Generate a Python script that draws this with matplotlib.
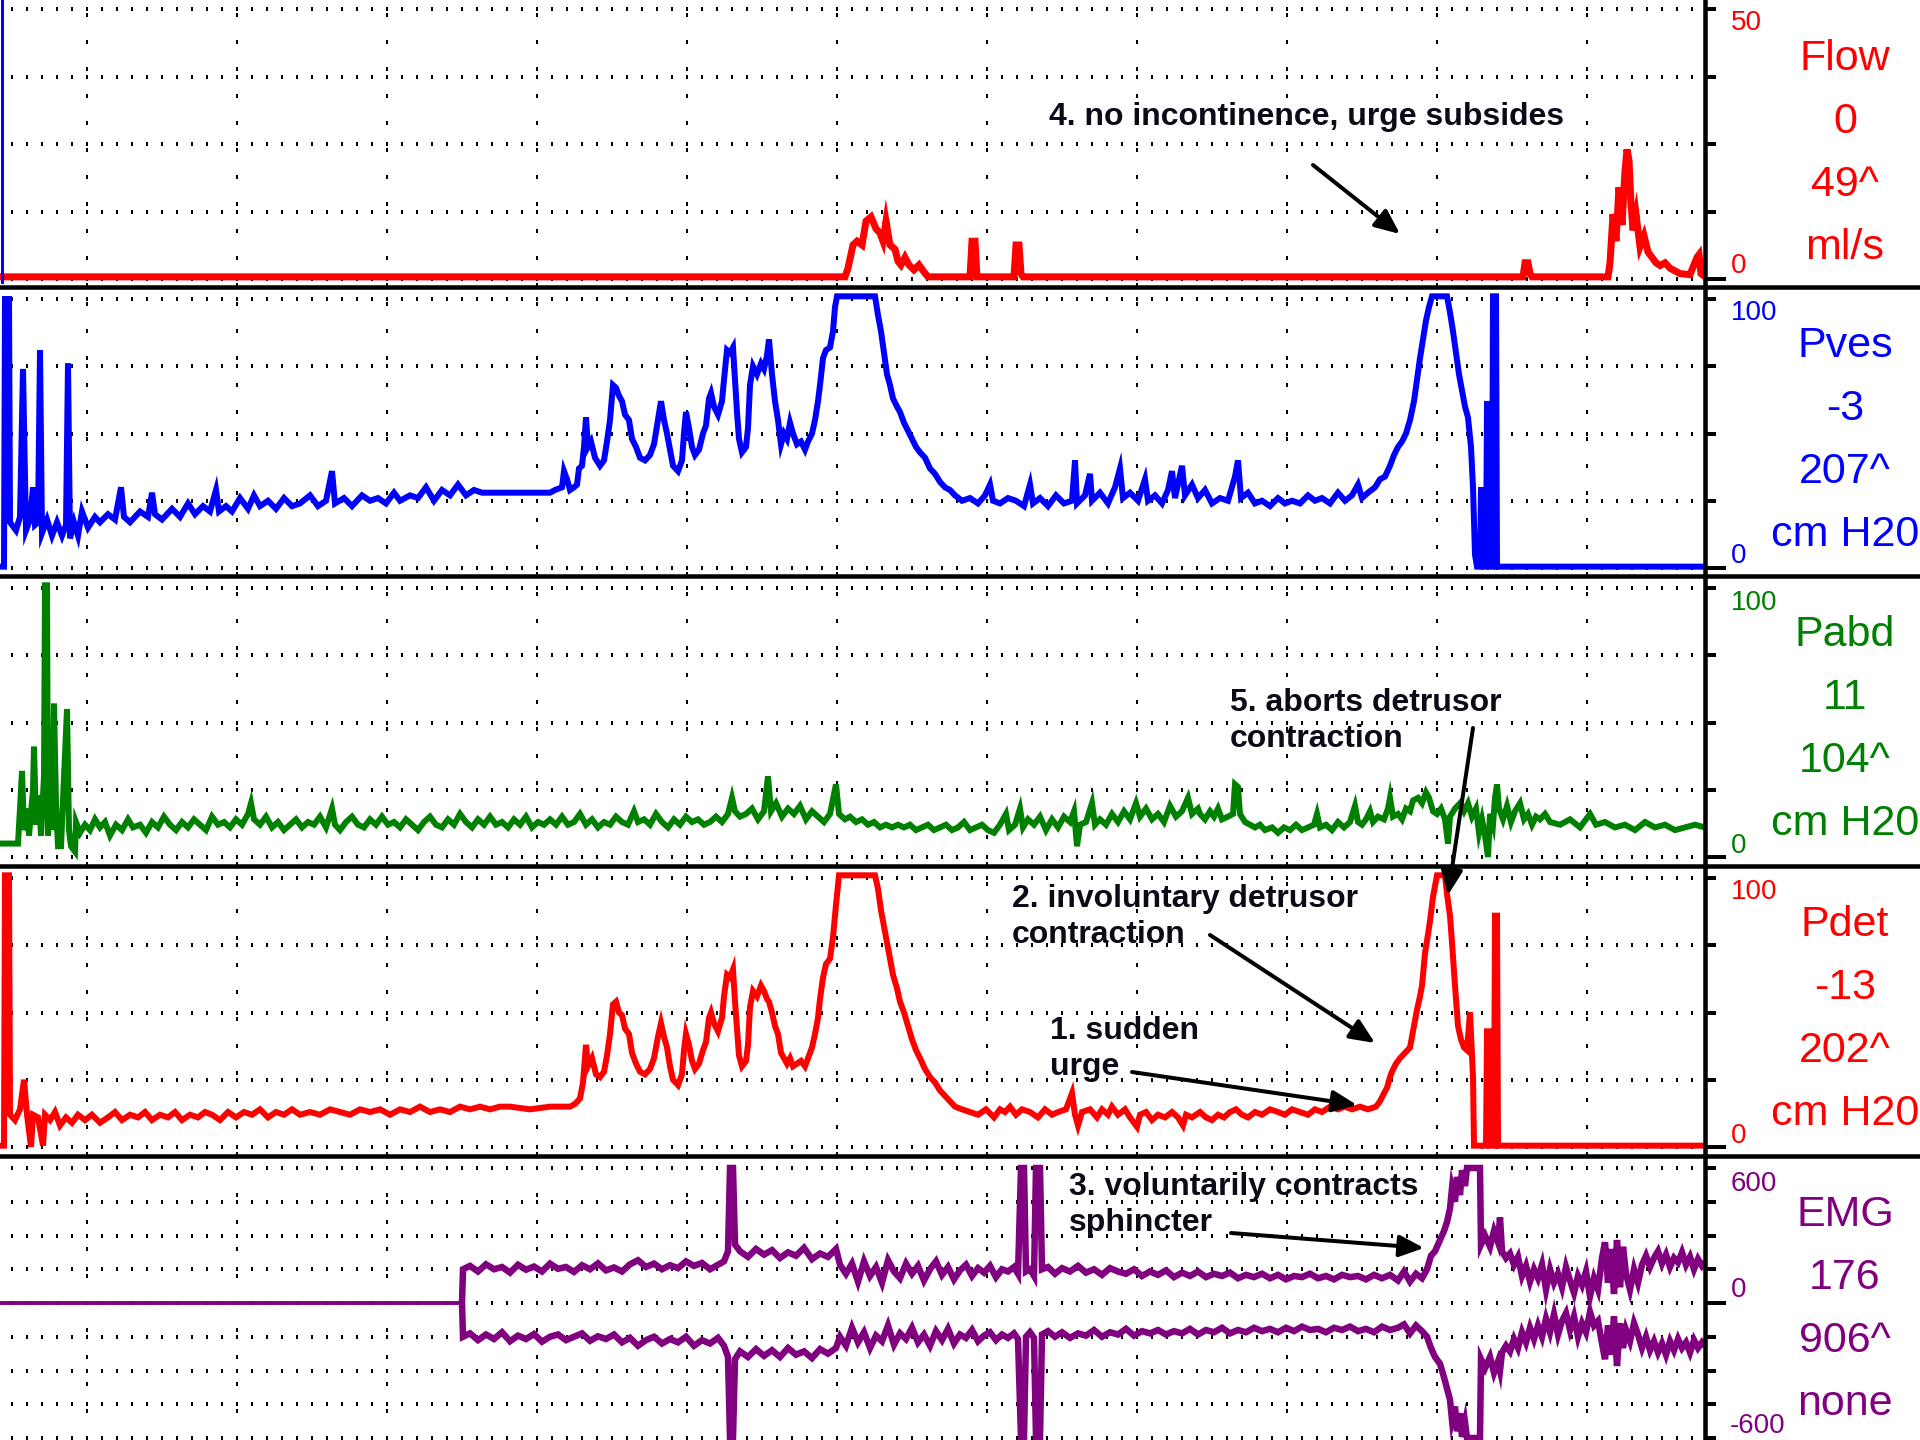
import matplotlib
matplotlib.use("Agg")
import matplotlib.pyplot as plt
import matplotlib.patches as mpatches
from matplotlib.lines import Line2D
from matplotlib.ticker import FixedLocator, NullFormatter

# ---------------- data (time in trace units 0..1705, values in channel units) -------------
flow_pts = [(0,0.4),(845,0.4),(848,2),(853,6.3),(857,7),(862,6.3),(866,10.7),(871,11.5),(876,9.3),
            (880,8.5),(883,7),(886,10.7),(890,6.3),(895,5.5),(898,3.3),(901,2.6),(905,4),(909,2.6),
            (914,1.7),(919,2.6),(924,1.3),(928,0.4),(970,0.4),(972,7),(975,7),(977,0.4),(1014,0.4),
            (1016,6.3),(1019,6.3),(1021,1),(1023,0.4),(1523,0.4),(1525,3),(1528,3),(1530,1),(1532,0.4),
            (1608,0.4),(1610,3),(1613,12),(1616,7),(1619,17),(1622,10),(1625,20),(1627,24),(1629,22),
            (1631,14),(1633,9),(1636,12),(1640,6),(1644,8),(1648,5),(1652,4),(1656,3),(1660,2.5),
            (1665,3),(1670,2),(1675,1.5),(1680,1),(1690,0.8),(1697,4),(1699,4.5),(1701,1),(1705,0.4)]

pves_pts = [(0,0.5),(4,0.5),(5,100),(9,100),(10,17),(16,14),(20,19),(23,74),(26,14),(30,18),(33,30),
            (35,16),(38,17),(40,81),(42,13),(47,18),(52,12),(57,17),(62,12),(66,16),(68,76),(70,11),
            (74,17),(78,12),(82,21),(88,15),(95,19),(100,17),(108,20),(115,18),(121,30),(124,19),(130,17),
            (140,21),(148,19),(152,28),(155,20),(162,18),(172,22),(180,19),(188,24),(195,20),(203,23),
            (210,21),(216,29),(219,21),(226,23),(232,21),(240,26),(248,22),(254,27),(260,23),(268,25),
            (276,22),(284,26),(292,23),(300,24),(310,27),(318,23),(326,25),(332,36),(335,24),(344,26),
            (352,23),(362,27),(370,25),(378,26),(386,24),(394,28),(400,25),(410,27),(418,26),(426,30),
            (434,25),(442,29),(450,27),(458,31),(466,27),(474,29),(482,28),(490,28),(520,28),(550,28),
            (555,29),(562,30),(564,36),(567,33),(570,29),(574,30),(577,31),(579,37),(582,38),(584,45),
            (586,56),(588,45),(591,47),(595,41),(600,38),(604,40),(607,47),(610,55),(613,68),(616,67),
            (619,64),(622,62),(625,57),(629,55),(632,48),(636,45),(640,41),(645,40),(650,42),(654,46),
            (658,55),(661,62),(664,55),(667,50),(670,44),(673,38),(678,36),(682,40),(684,50),(686,58),
            (689,52),(692,45),(695,42),(699,44),(703,50),(706,53),(709,63),(711,65),(714,60),(718,57),
            (722,62),(724,70),(727,81),(730,80),(733,82),(735,70),(737,58),(739,48),(742,43),(746,45),
            (748,52),(750,68),(753,75),(757,72),(761,76),(764,74),(767,79),(769,85),(772,72),(775,62),
            (778,55),(781,46),(784,50),(787,48),(790,54),(793,50),(797,46),(801,47),(805,44),(808,47),
            (812,50),(815,55),(818,62),(820,68),(823,78),(826,81),(830,82),(833,88),(835,97),(837,101),
            (875,101),(878,94),(881,88),(884,80),(887,72),(890,68),(893,63),(897,60),(900,58),(904,54),
            (908,51),(912,48),(916,45),(920,43),(925,41),(930,37),(935,35),(940,32),(945,30),(950,29),
            (955,27),(962,25),(970,26),(978,24),(985,27),(990,31),(993,25),(1000,24),(1008,26),(1016,25),
            (1024,23),(1030,31),(1033,24),(1040,26),(1048,23),(1056,27),(1064,24),(1072,25),(1075,40),
            (1077,24),(1085,27),(1090,35),(1092,25),(1100,28),(1108,24),(1115,30),(1120,37),(1123,26),
            (1130,28),(1138,25),(1145,33),(1148,25),(1155,27),(1162,24),(1168,29),(1172,36),(1175,26),
            (1182,38),(1185,27),(1192,31),(1198,26),(1205,29),(1212,24),(1220,26),(1228,25),(1235,34),
            (1238,40),(1241,26),(1248,28),(1255,24),(1262,25),(1270,23),(1278,26),(1285,24),(1292,25),
            (1300,24),(1308,27),(1315,25),(1322,26),(1330,24),(1338,28),(1345,25),(1352,27),(1358,31),
            (1362,26),(1368,28),(1375,30),(1380,33),(1385,34),(1390,38),(1394,42),(1398,45),(1402,47),
            (1406,50),(1410,55),(1414,62),(1417,70),(1420,78),(1423,85),(1426,92),(1429,97),(1432,101),
            (1447,101),(1450,95),(1453,88),(1456,80),(1459,72),(1462,66),(1465,60),(1468,56),(1471,45),
            (1473,30),(1475,5),(1477,0.5),(1480,0.5),(1481,29),(1483,29),(1484,0.5),(1486,0.5),(1487,61),
            (1489,61),(1490,0.5),(1492,0.5),(1493,101),(1496,101),(1497,0.5),(1705,0.5)]

pabd_pts = [(0,5),(16,5),(18,5),(20,18),(22,32),(24,10),(27,18),(29,8),(33,25),(34,41),(36,12),(39,23),
            (41,8),(44,30),(45,101),(47,101),(48,8),(50,27),(52,10),(54,57),(56,20),(58,4),(61,4),(67,55),
            (69,10),(71,4),(75,2),(76,13),(80,9),(85,12),(90,10),(95,14),(100,11),(105,13),(110,8),
            (116,12),(122,10),(128,14),(133,11),(140,12),(146,9),(152,13),(158,11),(164,15),(170,12),
            (176,10),(182,13),(188,11),(194,14),(200,12),(206,10),(212,15),(218,12),(224,13),(230,11),
            (236,14),(242,12),(248,16),(251,20),(254,14),(260,12),(266,15),(272,11),(278,13),(284,10),
            (290,12),(296,14),(302,11),(308,13),(314,12),(320,15),(326,11),(332,18),(335,12),(340,10),
            (346,13),(352,15),(358,12),(364,11),(370,14),(376,12),(382,15),(388,12),(394,13),(400,11),
            (406,14),(412,12),(418,10),(424,13),(430,15),(436,12),(442,11),(448,14),(454,12),(460,16),
            (466,13),(472,11),(478,14),(484,12),(490,15),(496,12),(502,13),(508,11),(514,14),(520,12),
            (526,15),(532,11),(538,13),(544,12),(550,14),(556,12),(562,15),(568,12),(574,13),(580,16),
            (586,12),(592,14),(598,11),(604,13),(610,12),(616,15),(622,13),(628,12),(634,17),(638,13),
            (644,14),(650,12),(656,16),(662,13),(668,11),(674,14),(680,12),(686,15),(692,13),(698,14),
            (704,12),(710,13),(716,15),(722,13),(728,16),(732,22),(735,17),(740,15),(746,16),(752,18),
            (758,14),(764,17),(768,30),(771,17),(776,20),(782,15),(788,18),(794,16),(800,19),(806,14),
            (812,17),(818,15),(824,13),(830,16),(836,27),(839,16),(845,14),(850,15),(856,13),(862,14),
            (868,12),(874,13),(880,11),(886,12),(892,11),(898,12),(904,11),(910,12),(916,10),(922,11),
            (928,12),(934,10),(940,11),(946,12),(952,10),(958,11),(964,13),(970,10),(976,11),(982,12),
            (988,10),(994,9),(1000,12),(1006,16),(1009,10),(1015,12),(1020,18),(1023,11),(1028,14),
            (1034,12),(1040,15),(1046,10),(1052,14),(1058,11),(1064,15),(1070,13),(1074,17),(1077,4),
            (1080,12),(1086,13),(1092,20),(1095,12),(1100,14),(1106,12),(1112,16),(1118,13),(1124,17),
            (1130,14),(1136,20),(1140,15),(1146,18),(1152,14),(1158,16),(1164,13),(1170,19),(1176,15),
            (1182,17),(1188,22),(1192,16),(1198,18),(1200,16),(1205,14),(1210,17),(1214,15),(1218,18),
            (1222,14),(1228,15),(1233,16),(1235,27),(1238,26),(1240,16),(1245,13),(1250,12),(1255,11),
            (1260,12),(1265,10),(1272,11),(1278,9),(1284,11),(1290,10),(1296,12),(1302,10),(1308,11),
            (1314,12),(1317,16),(1320,11),(1326,12),(1332,10),(1338,13),(1344,11),(1350,13),(1355,19),
            (1358,13),(1362,12),(1366,14),(1370,17),(1373,13),(1378,15),(1384,14),(1388,18),(1390,22),
            (1393,15),(1398,16),(1402,14),(1406,18),(1410,17),(1413,21),(1418,22),(1422,20),(1426,24),
            (1429,22),(1433,17),(1437,16),(1441,18),(1445,14),(1448,5),(1450,15),(1455,18),(1460,20),
            (1464,17),(1468,20),(1472,15),(1476,18),(1479,9),(1482,14),(1485,8),(1488,0),(1490,16),
            (1493,12),(1495,22),(1497,27),(1499,18),(1503,14),(1507,19),(1511,13),(1515,17),(1520,20),
            (1524,14),(1528,16),(1532,12),(1536,15),(1540,14),(1545,16),(1550,13),(1560,12),(1570,14),
            (1580,11),(1590,16),(1596,12),(1605,13),(1615,11),(1625,12),(1635,10),(1645,13),(1655,11),
            (1665,12),(1675,10),(1685,11),(1695,12),(1705,11)]

pdet_pts = [(0,0.5),(4,0.5),(5,101),(9,101),(10,12),(15,10),(20,14),(24,25),(27,12),(31,0),(33,12),
            (38,11),(43,0.5),(45,12),(50,10),(55,13),(60,8),(66,11),(72,9),(78,12),(85,10),(92,12),
            (100,9),(108,11),(115,13),(122,10),(130,12),(138,11),(145,13),(152,10),(160,12),(168,11),
            (175,13),(182,10),(190,12),(198,11),(205,13),(212,12),(220,10),(228,13),(236,11),(244,13),
            (252,12),(260,14),(268,11),(276,13),(284,12),(292,14),(300,12),(310,13),(320,12),(330,14),
            (340,13),(350,12),(360,14),(370,13),(380,14),(390,12),(400,14),(410,13),(420,15),(430,13),
            (440,14),(450,13),(460,15),(470,14),(480,15),(490,14),(500,15),(510,15),(530,14),(550,15),
            (570,15),(575,16),(580,18),(583,24),(586,38),(588,30),(592,33),(596,27),(600,26),(604,28),
            (607,34),(610,42),(613,53),(616,54),(619,50),(622,49),(625,44),(629,42),(632,35),(636,31),
            (640,28),(645,27),(650,29),(654,33),(658,41),(661,46),(664,41),(667,37),(670,30),(673,25),
            (678,23),(682,27),(684,36),(686,42),(689,38),(692,32),(695,29),(699,31),(703,36),(706,39),
            (709,48),(711,50),(714,46),(718,43),(722,48),(724,56),(727,64),(730,63),(733,66),(735,54),
            (737,44),(739,34),(742,30),(746,32),(748,38),(750,52),(753,58),(757,56),(761,60),(764,58),
            (767,55),(769,54),(772,50),(775,45),(778,42),(781,35),(784,33),(787,31),(790,33),(793,30),
            (797,31),(801,32),(805,30),(808,33),(812,37),(815,42),(818,48),(820,55),(823,63),(826,68),
            (830,70),(833,78),(836,90),(839,101),(875,101),(878,96),(881,88),(884,82),(887,76),(890,70),
            (893,64),(897,59),(900,54),(904,50),(908,45),(912,40),(916,36),(920,33),(925,29),(930,26),
            (935,24),(940,21),(945,19),(950,17),(955,15),(962,14),(970,13),(978,12),(986,14),(994,11),
            (1000,14),(1005,13),(1010,15),(1016,12),(1022,14),(1030,13),(1038,11),(1045,14),(1052,12),
            (1058,13),(1066,14),(1072,20),(1075,12),(1078,8),(1082,13),(1090,14),(1097,11),(1102,14),
            (1108,12),(1112,15),(1118,12),(1125,14),(1130,11),(1137,7.5),(1140,12),(1146,13),(1152,10),
            (1158,12),(1165,11),(1172,13),(1178,11),(1183,8),(1186,12),(1192,11),(1200,13),(1206,11),
            (1212,10),(1218,12),(1224,11),(1230,13),(1236,14),(1242,12),(1248,11),(1255,13),(1262,12),
            (1270,14),(1278,13),(1285,12),(1292,14),(1300,13),(1308,12),(1315,14),(1322,13),(1330,15),
            (1338,14),(1345,15),(1352,14),(1360,15),(1368,14),(1376,15),(1380,17),(1384,20),(1387,22),
            (1390,26),(1392,28),(1396,31),(1400,33),(1405,35),(1410,37),(1414,45),(1417,51),(1420,56),
            (1422,60),(1425,72),(1428,79),(1430,84),(1433,93),(1436,99),(1437,101),(1445,101),(1447,94),
            (1450,86),(1452,76),(1455,60),(1458,45),(1461,40),(1464,37),(1467,36),(1469,45),(1470,50),
            (1471,42),(1473,26),(1474,0.5),(1486,0.5),(1487,43),(1489,43),(1490,0.5),(1494,0.5),(1495,86),
            (1497,86),(1498,0.5),(1705,0.5)]

emg_hi_pts = [(0,0),(462,0),(463,150),(470,165),(478,140),(486,172),(494,150),(502,160),(510,135),(518,170),
              (526,148),(534,162),(542,140),(550,175),(558,152),(566,160),(574,138),(582,168),(590,150),
              (598,176),(606,145),(614,158),(622,140),(630,172),(638,190),(646,160),(654,175),(662,150),
              (670,168),(678,155),(686,185),(694,165),(702,178),(710,150),(718,170),(724,185),(728,230),
              (730,600),(733,600),(735,260),(740,230),(748,205),(756,240),(764,215),(772,235),(780,200),
              (788,225),(796,210),(804,245),(812,195),(820,220),(828,205),(836,240),(840,170),(846,130),
              (852,175),(858,95),(864,185),(870,120),(876,160),(882,90),(888,190),(894,140),(900,110),
              (906,175),(912,130),(918,165),(924,100),(930,150),(936,185),(942,125),(948,160),(954,105),
              (960,145),(966,170),(972,120),(978,155),(984,135),(990,165),(996,115),(1002,150),(1008,140),
              (1014,160),(1018,130),(1021,600),(1024,600),(1026,140),(1030,150),(1034,120),(1036,600),
              (1040,600),(1042,150),(1048,160),(1055,130),(1062,155),(1070,140),(1078,165),(1086,135),
              (1094,150),(1102,125),(1110,155),(1118,140),(1126,130),(1134,150),(1142,120),(1150,140),
              (1158,125),(1166,145),(1174,115),(1182,135),(1190,120),(1198,140),(1206,115),(1214,130),
              (1222,120),(1230,135),(1238,110),(1246,125),(1254,115),(1262,130),(1270,110),(1278,125),
              (1286,105),(1294,120),(1302,115),(1310,130),(1318,110),(1326,120),(1334,105),(1342,125),
              (1350,115),(1358,120),(1366,105),(1374,125),(1382,110),(1390,125),(1398,100),(1404,140),
              (1410,95),(1416,130),(1422,110),(1427,150),(1431,210),(1435,230),(1440,280),(1444,320),
              (1447,360),(1450,420),(1452,510),(1455,450),(1457,560),(1460,480),(1462,590),(1465,520),
              (1467,600),(1480,600),(1481,260),(1485,300),(1490,250),(1494,320),(1498,270),(1500,380),
              (1502,230),(1506,200),(1510,220),(1514,170),(1518,205),(1522,120),(1526,165),(1530,95),
              (1534,150),(1538,110),(1542,170),(1546,60),(1550,150),(1554,90),(1558,130),(1562,70),
              (1566,160),(1570,100),(1574,45),(1578,120),(1582,80),(1586,140),(1590,30),(1594,110),
              (1598,60),(1602,200),(1605,270),(1608,90),(1611,240),(1614,40),(1617,280),(1620,70),
              (1623,250),(1626,130),(1630,60),(1634,150),(1638,90),(1642,170),(1646,210),(1650,160),
              (1654,200),(1658,230),(1662,175),(1666,215),(1670,160),(1674,200),(1678,180),(1682,225),
              (1686,170),(1690,205),(1694,150),(1698,195),(1702,165),(1705,180)]

emg_lo_pts = [(0,0),(462,0),(463,-150),(470,-135),(478,-165),(486,-140),(494,-160),(502,-130),(510,-170),
              (518,-145),(526,-160),(534,-138),(542,-172),(550,-150),(558,-140),(566,-165),(574,-150),
              (582,-135),(590,-168),(598,-148),(606,-160),(614,-140),(622,-175),(630,-155),(638,-190),
              (646,-165),(654,-150),(662,-180),(670,-160),(678,-175),(686,-150),(694,-190),(702,-165),
              (710,-180),(718,-155),(724,-190),(728,-240),(730,-600),(733,-600),(735,-250),(740,-215),
              (748,-240),(756,-205),(764,-235),(772,-210),(780,-240),(788,-200),(796,-230),(804,-215),
              (812,-245),(820,-205),(828,-225),(836,-200),(840,-150),(846,-190),(852,-110),(858,-175),
              (864,-130),(870,-200),(876,-145),(882,-170),(888,-100),(894,-185),(900,-135),(906,-160),
              (912,-110),(918,-175),(924,-140),(930,-190),(936,-125),(942,-165),(948,-115),(954,-180),
              (960,-140),(966,-155),(972,-120),(978,-170),(984,-145),(990,-130),(996,-165),(1002,-140),
              (1008,-155),(1014,-135),(1018,-160),(1021,-600),(1024,-600),(1026,-150),(1030,-130),
              (1034,-155),(1036,-600),(1040,-600),(1042,-140),(1048,-125),(1055,-150),(1062,-130),
              (1070,-155),(1078,-135),(1086,-145),(1094,-120),(1102,-150),(1110,-130),(1118,-140),
              (1126,-115),(1134,-145),(1142,-125),(1150,-135),(1158,-120),(1166,-140),(1174,-125),
              (1182,-135),(1190,-115),(1198,-140),(1206,-120),(1214,-130),(1222,-110),(1230,-135),
              (1238,-120),(1246,-130),(1254,-110),(1262,-125),(1270,-115),(1278,-130),(1286,-110),
              (1294,-125),(1302,-105),(1310,-120),(1318,-115),(1326,-130),(1334,-110),(1342,-120),
              (1350,-105),(1358,-125),(1366,-115),(1374,-130),(1382,-105),(1390,-120),(1398,-110),
              (1404,-95),(1410,-135),(1416,-100),(1422,-125),(1427,-150),(1431,-200),(1435,-240),
              (1440,-270),(1444,-330),(1447,-380),(1450,-430),(1452,-520),(1455,-460),(1457,-570),
              (1460,-490),(1462,-595),(1465,-530),(1467,-600),(1480,-600),(1481,-250),(1485,-290),
              (1490,-240),(1494,-310),(1498,-260),(1500,-300),(1502,-220),(1506,-190),(1510,-215),
              (1514,-160),(1518,-200),(1522,-130),(1526,-175),(1530,-110),(1534,-160),(1538,-100),
              (1542,-150),(1546,-70),(1550,-130),(1554,-50),(1558,-140),(1562,-80),(1566,-45),
              (1570,-120),(1574,-60),(1578,-150),(1582,-90),(1586,-130),(1590,-40),(1594,-100),
              (1598,-80),(1602,-180),(1605,-250),(1608,-100),(1611,-230),(1614,-60),(1617,-280),
              (1620,-90),(1623,-200),(1626,-120),(1630,-170),(1634,-90),(1638,-140),(1642,-200),
              (1646,-150),(1650,-210),(1654,-170),(1658,-220),(1662,-180),(1666,-230),(1670,-170),
              (1674,-210),(1678,-160),(1682,-200),(1686,-175),(1690,-220),(1694,-165),(1698,-200),
              (1702,-175),(1705,-190)]

channel_names = ["Flow", "Pves", "Pabd", "Pdet", "EMG"]
channel_current = ["0", "-3", "11", "-13", "176"]
channel_max = ["49^", "207^", "104^", "202^", "906^"]
channel_units = ["ml/s", "cm H20", "cm H20", "cm H20", "none"]
scale_top_labels = ["50", "100", "100", "100", "600"]
flow_ticks = [0, 12.5, 25, 37.5, 50]
pres_ticks = [0, 25, 50, 75, 100]
emg_ticks = [-600, -450, -300, -150, 0, 150, 300, 450, 600]
time_grid = [87 + 150 * k for k in range(11)]

# text, left x / last-line baseline (px), arrow tail, arrow head (px)
annotations = [
    ("4. no incontinence, urge subsides", (1049, 125), (1313, 165), (1400, 234)),
    ("5. aborts detrusor\ncontraction", (1230, 747), (1473, 728), (1448, 895)),
    ("2. involuntary detrusor\ncontraction", (1012, 943), (1210, 935), (1375, 1043)),
    ("1. sudden\nurge", (1050, 1075), (1132, 1072), (1357, 1105)),
    ("3. voluntarily contracts\nsphincter", (1069, 1231), (1231, 1233), (1424, 1248)),
]

# ---------------- figure -------------
W, H, DPI = 1920, 1440, 100
PT = 72.0 / DPI  # points per pixel
plt.rcParams['lines.scale_dashes'] = False
SANS = ['Liberation Sans', 'DejaVu Sans']

fig = plt.figure(figsize=(W / DPI, H / DPI), dpi=DPI)
fig.patch.set_facecolor('white')
AXR = 1705

RED, BLUE, GREEN, PURPLE = '#FF0000', '#0000FF', '#008000', '#800080'

panels = [
    dict(top=0, bot=287, zero=279, ref=9, refval=50, ticks=flow_ticks, color=RED,
         series=[flow_pts], lw=7.0, toplab_c=20, zerolab_c=263),
    dict(top=287, bot=576, zero=568, ref=299, refval=100, ticks=pres_ticks, color=BLUE,
         series=[pves_pts], lw=6.0, toplab_c=310, zerolab_c=553),
    dict(top=576, bot=866, zero=857, ref=588, refval=100, ticks=pres_ticks, color=GREEN,
         series=[pabd_pts], lw=6.0, toplab_c=600, zerolab_c=843),
    dict(top=866, bot=1156, zero=1147, ref=878, refval=100, ticks=pres_ticks, color=RED,
         series=[pdet_pts], lw=6.0, toplab_c=889, zerolab_c=1133),
    dict(top=1156, bot=1440, zero=1303, ref=1168, refval=600, ticks=emg_ticks, color=PURPLE,
         series=[emg_hi_pts, emg_lo_pts], lw=6.5, toplab_c=1181, zerolab_c=1287),
]

def fy(y):
    return 1 - y / H

for i, p in enumerate(panels):
    ax = fig.add_axes([0, fy(p['bot']), AXR / W, (p['bot'] - p['top']) / H])
    scale = (p['zero'] - p['ref']) / p['refval']  # px per unit
    ax.set_xlim(0, AXR)
    ax.set_ylim(-(p['bot'] - p['zero']) / scale, (p['zero'] - p['top']) / scale)
    ax.set_facecolor('none')
    for s in ['top', 'bottom', 'left']:
        ax.spines[s].set_visible(False)
    ax.spines['right'].set_linewidth(4.5 * PT)
    ax.spines['right'].set_color('black')
    ax.yaxis.set_major_locator(FixedLocator([0]))
    ax.yaxis.set_minor_locator(FixedLocator([t for t in p['ticks'] if t != 0]))
    ax.yaxis.set_major_formatter(NullFormatter())
    ax.yaxis.set_minor_formatter(NullFormatter())
    ax.yaxis.tick_right()
    ax.tick_params(axis='y', which='major', direction='out', length=21 * PT, width=4 * PT, color='k')
    ax.tick_params(axis='y', which='minor', direction='out', length=11 * PT, width=4 * PT, color='k')
    ax.xaxis.set_major_locator(FixedLocator(time_grid))
    ax.xaxis.set_major_formatter(NullFormatter())
    ax.tick_params(axis='x', which='both', length=0)
    ax.yaxis.grid(True, which='both', color='black', linewidth=4 * PT,
                  linestyle=(4 * PT, (2 * PT, 13 * PT)))
    ax.xaxis.grid(True, which='major', color='black', linewidth=2 * PT,
                  linestyle=(0, (4 * PT, 23 * PT)))
    ax.set_axisbelow(True)
    for pts in p['series']:
        t = [a for a, b in pts]
        v = [b for a, b in pts]
        if p['color'] == PURPLE:
            # flat pre-recording segment is drawn thin, the active EMG band thick
            ax.plot(t[:2], v[:2], color=p['color'], lw=3.5 * PT, solid_capstyle='butt')
            ax.plot(t[1:], v[1:], color=p['color'], lw=p['lw'] * PT, solid_joinstyle='miter',
                    solid_capstyle='butt')
        else:
            ax.plot(t, v, color=p['color'], lw=p['lw'] * PT, solid_joinstyle='miter',
                    solid_capstyle='butt')
    fig.text(1731 / W, fy(p['toplab_c'] + 10), scale_top_labels[i], color=p['color'],
             fontsize=20, family=SANS, ha='left', va='baseline')
    fig.text(1731 / W, fy(p['zerolab_c'] + 10), "0", color=p['color'],
             fontsize=20, family=SANS, ha='left', va='baseline')
    base = p['top']
    for txt, off in zip([channel_names[i], channel_current[i], channel_max[i], channel_units[i]],
                        [70, 133, 196, 259]):
        fig.text(1845 / W, fy(base + off), txt, color=p['color'], fontsize=31,
                 family=SANS, ha='center', va='baseline')

fig.text(1730 / W, fy(1423 + 10), "-600", color=PURPLE, fontsize=20, family=SANS,
         ha='left', va='baseline')

# thin blue edge at left of the flow channel
fig.add_artist(Line2D([1.5 / W, 1.5 / W], [fy(0), fy(282)], color=BLUE, lw=3 * PT,
                      transform=fig.transFigure))

# channel separators
for ysep in [287, 576, 866, 1156]:
    fig.add_artist(Line2D([0, 1], [fy(ysep), fy(ysep)], color='black', lw=4.5 * PT,
                          transform=fig.transFigure))

# annotations
for txt, (tx, ty), tail, head in annotations:
    fig.text(tx / W, fy(ty), txt, fontsize=23, fontweight='bold', family=SANS,
             color='#0b0b18', ha='left', va='baseline', linespacing=1.25)
    fig.add_artist(mpatches.FancyArrowPatch(
        (tail[0] / W, fy(tail[1])), (head[0] / W, fy(head[1])), transform=fig.transFigure,
        arrowstyle=mpatches.ArrowStyle('-|>', head_length=0.5, head_width=0.22),
        mutation_scale=30, lw=4 * PT, color='black', shrinkA=0, shrinkB=0))

fig.savefig('out.png', dpi=DPI, facecolor='white')
